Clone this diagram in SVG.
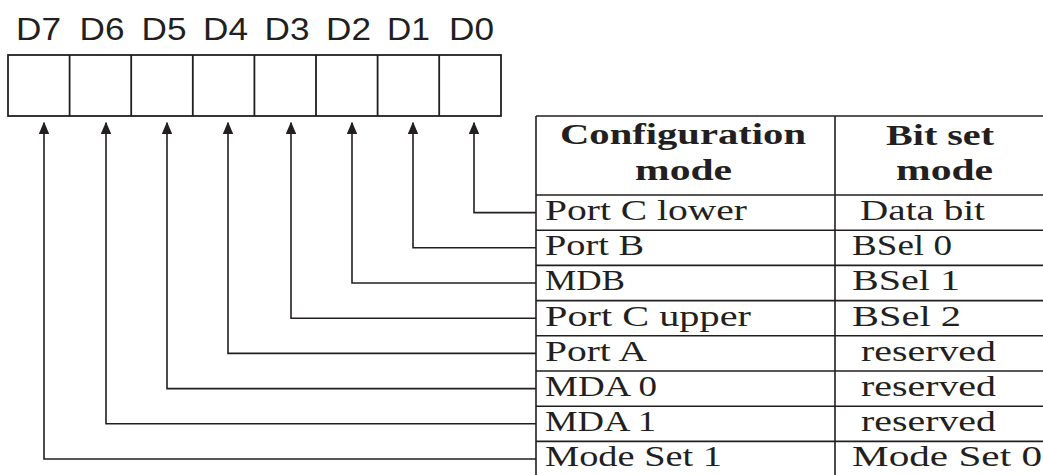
<svg xmlns="http://www.w3.org/2000/svg" width="1043" height="475" viewBox="0 0 1043 475">
<style>
.ln{fill:none;stroke:#231f20;stroke-width:1.6}
.bx{fill:none;stroke:#231f20;stroke-width:1.8}
.lbl{font-family:"Liberation Sans",Arial,sans-serif;font-size:31px;fill:#231f20}
.hd{font-family:"Liberation Serif","Times New Roman",serif;font-size:29px;font-weight:bold;fill:#231f20}
.tx{font-family:"Liberation Serif","Times New Roman",serif;font-size:28.5px;fill:#231f20}
</style>
<defs>
<marker id="ah" viewBox="0 0 12.6 10.6" refX="11.6" refY="5.3" markerWidth="12.6" markerHeight="10.6" markerUnits="userSpaceOnUse" orient="auto">
<path d="M0,0 L12.6,5.3 L0,10.6 z" fill="#231f20"/>
</marker>
</defs>
<g id="register">
<rect class="bx" x="8" y="55" width="493" height="61"/>
<path class="bx" d="M69.6,55V116M131.2,55V116M192.8,55V116M254.4,55V116M316,55V116M377.6,55V116M439.2,55V116"/>
<text class="lbl" x="16" y="40" textLength="45" lengthAdjust="spacingAndGlyphs">D7</text>
<text class="lbl" x="79.5" y="40" textLength="45" lengthAdjust="spacingAndGlyphs">D6</text>
<text class="lbl" x="141.5" y="40" textLength="45" lengthAdjust="spacingAndGlyphs">D5</text>
<text class="lbl" x="203" y="40" textLength="45" lengthAdjust="spacingAndGlyphs">D4</text>
<text class="lbl" x="264.5" y="40" textLength="45" lengthAdjust="spacingAndGlyphs">D3</text>
<text class="lbl" x="326" y="40" textLength="45" lengthAdjust="spacingAndGlyphs">D2</text>
<text class="lbl" x="387" y="40" textLength="43" lengthAdjust="spacingAndGlyphs">D1</text>
<text class="lbl" x="449" y="40" textLength="45" lengthAdjust="spacingAndGlyphs">D0</text>
</g>
<g id="connectors">
<path class="ln" marker-end="url(#ah)" d="M536,212.6H474V122.7"/>
<path class="ln" marker-end="url(#ah)" d="M536,247.8H413V122.7"/>
<path class="ln" marker-end="url(#ah)" d="M536,283H352V122.7"/>
<path class="ln" marker-end="url(#ah)" d="M536,318.2H291V122.7"/>
<path class="ln" marker-end="url(#ah)" d="M536,353.4H228V122.7"/>
<path class="ln" marker-end="url(#ah)" d="M536,388.6H167V122.7"/>
<path class="ln" marker-end="url(#ah)" d="M536,423.8H106V122.7"/>
<path class="ln" marker-end="url(#ah)" d="M536,459H44V122.7"/>
</g>
<g id="table">
<path class="ln" d="M536,116H1043M536,116V475M835,116V475M536,195H1043M536,230.2H1043M536,265.4H1043M536,300.6H1043M536,335.8H1043M536,371H1043M536,406.2H1043M536,441.4H1043"/>
<text class="hd" x="560" y="144" textLength="246" lengthAdjust="spacingAndGlyphs">Configuration</text>
<text class="hd" x="635" y="179.5" textLength="97" lengthAdjust="spacingAndGlyphs">mode</text>
<text class="hd" x="886" y="144.5" textLength="108" lengthAdjust="spacingAndGlyphs">Bit set</text>
<text class="hd" x="896" y="180" textLength="97" lengthAdjust="spacingAndGlyphs">mode</text>
<text class="tx" x="545" y="220" textLength="202" lengthAdjust="spacingAndGlyphs">Port C lower</text>
<text class="tx" x="545" y="255.2" textLength="99" lengthAdjust="spacingAndGlyphs">Port B</text>
<text class="tx" x="545" y="290.4" textLength="80" lengthAdjust="spacingAndGlyphs">MDB</text>
<text class="tx" x="545" y="325.6" textLength="206" lengthAdjust="spacingAndGlyphs">Port C upper</text>
<text class="tx" x="545" y="360.8" textLength="102" lengthAdjust="spacingAndGlyphs">Port A</text>
<text class="tx" x="545" y="396" textLength="112" lengthAdjust="spacingAndGlyphs">MDA 0</text>
<text class="tx" x="545" y="431.2" textLength="111" lengthAdjust="spacingAndGlyphs">MDA 1</text>
<text class="tx" x="545" y="466.4" textLength="177" lengthAdjust="spacingAndGlyphs">Mode Set 1</text>
<text class="tx" x="860" y="220" textLength="125" lengthAdjust="spacingAndGlyphs">Data bit</text>
<text class="tx" x="852" y="255.2" textLength="100" lengthAdjust="spacingAndGlyphs">BSel 0</text>
<text class="tx" x="852" y="290.4" textLength="108" lengthAdjust="spacingAndGlyphs">BSel 1</text>
<text class="tx" x="852" y="325.6" textLength="109" lengthAdjust="spacingAndGlyphs">BSel 2</text>
<text class="tx" x="861" y="360.8" textLength="135" lengthAdjust="spacingAndGlyphs">reserved</text>
<text class="tx" x="861" y="396" textLength="135" lengthAdjust="spacingAndGlyphs">reserved</text>
<text class="tx" x="861" y="431.2" textLength="135" lengthAdjust="spacingAndGlyphs">reserved</text>
<text class="tx" x="852" y="466.4" textLength="190" lengthAdjust="spacingAndGlyphs">Mode Set 0</text>
</g>
</svg>
